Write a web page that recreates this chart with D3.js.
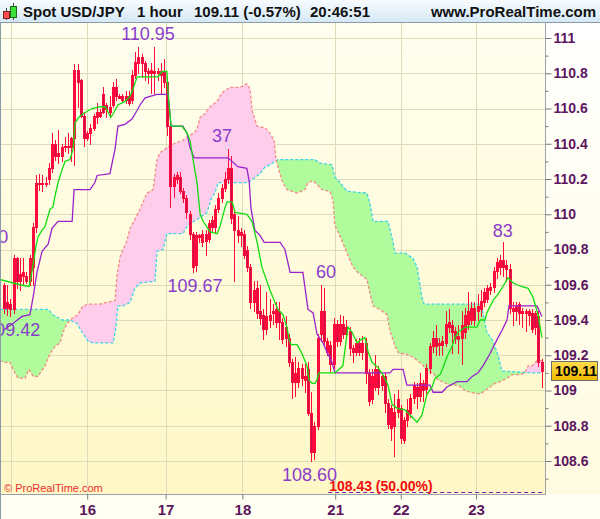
<!DOCTYPE html>
<html><head><meta charset="utf-8">
<script src="https://cdn.jsdelivr.net/npm/d3@7"></script>
<style>html,body{margin:0;padding:0;background:#fff;} svg{display:block;}</style>
</head><body>
<svg id="chart" width="600" height="519"></svg>
<script>
// ---------- DATA (hourly candles, bar index 0..168) ----------
const open = [109.60,109.50,109.49,109.46,109.75,109.62,109.65,109.65,109.62,109.70,
110.93-1.00,110.17,110.18,110.17,110.20,110.26,110.40,110.35,110.33,110.38,
110.38,110.38,110.43,110.82,110.76,110.56,110.43,110.46,110.49,110.55,
110.56,110.68,110.62,110.58,110.62,110.72,110.67,110.65,110.65,110.67,
110.65,110.79,110.86,110.89,110.86,110.81,110.80,110.81,110.80,110.81,
110.81,110.75,110.50,110.16,110.20,110.21,110.13,110.09,110.00,109.89,
109.71,109.88,109.84,109.89,109.86,109.97,109.93,110.03,110.09,110.15,
110.20,110.26,110.00,109.91,109.88,109.89,109.80,109.70,109.50,109.58,
109.45,109.43,109.35,109.40,109.45,109.39,109.45,109.39,109.30,109.30,
109.16,109.05,109.05,109.13,109.06,109.12,108.87,108.65,108.80,109.32,
109.45,109.22,109.26,109.15,109.38,109.28,109.38,109.32,109.34,109.24,
109.22,109.27,109.22,109.27,109.10,108.95,109.02,109.12,109.03,109.08,
108.93,108.79,108.80,108.88,108.90,108.72,108.83,108.87,108.96,109.02,
108.97,109.04,109.01,109.13,109.25,109.30,109.26,109.26,109.27,109.36,
109.37,109.34,109.29,109.30,109.33,109.38,109.40,109.47,109.45,109.46,
109.50,109.52,109.57,109.59,109.68,109.70,109.74,109.71,109.69,109.45,
109.48,109.49,109.44,109.44,109.45,109.44,109.44,109.42,109.16];
const high = [109.61,109.60,109.52,109.77,109.76,109.75,109.75,109.67,109.77,109.95,
110.22,110.23,110.22,110.21,110.29,110.46,110.42,110.48,110.40,110.44,
110.46,110.44,110.85,110.85,110.77,110.58,110.47,110.51,110.57,110.63,
110.60,110.72,110.63,110.67,110.75,110.77,110.68,110.68,110.70,110.70,
110.82,110.92,110.95,110.91,110.87,110.83,110.86,110.95,110.83,110.86,
110.88,110.78,110.52,110.23,110.24,110.24,110.15,110.11,110.02,109.90,
109.90,109.89,109.91,109.91,109.97,109.99,110.05,110.12,110.17,110.24,
110.37,110.33,110.02,109.99,109.92,109.91,109.82,109.72,109.62,109.62,
109.60,109.46,109.56,109.52,109.49,109.50,109.50,109.41,109.42,109.32,
109.18,109.19,109.16,109.15,109.15,109.16,108.99,108.82,109.32,109.60,
109.58,109.30,109.28,109.41,109.40,109.43,109.42,109.40,109.36,109.26,
109.29,109.30,109.31,109.30,109.12,109.12,109.20,109.14,109.10,109.10,
108.95,108.92,108.98,109.00,108.92,108.85,108.95,108.98,109.05,109.04,
109.10,109.06,109.15,109.27,109.34,109.37,109.30,109.31,109.45,109.46,
109.40,109.36,109.37,109.45,109.47,109.56,109.50,109.50,109.55,109.57,
109.58,109.60,109.61,109.70,109.75,109.77,109.84,109.74,109.72,109.50,
109.50,109.50,109.47,109.46,109.46,109.46,109.45,109.45,109.18];
const low = [109.44,109.43,109.42,109.44,109.58,109.57,109.60,109.61,109.60,109.60,
109.90,110.14,110.13,110.16,110.17,110.24,110.31,110.29,110.30,110.36,
110.35,110.30,110.28,110.61,110.55,110.39,110.42,110.40,110.48,110.52,
110.55,110.575,110.55,110.55,110.61,110.65,110.66,110.64,110.63,110.62,
110.63,110.775,110.80,110.78,110.76,110.745,110.69,110.69,110.76,110.68,
110.72,110.45,110.04,110.10,110.18,110.12,110.07,109.98,109.86,109.67,
109.68,109.84,109.82,109.77,109.84,109.90,109.90,110.01,110.07,110.13,
110.18,109.95,109.62,109.84,109.82,109.75,109.68,109.47,109.45,109.41,
109.38,109.29,109.32,109.36,109.38,109.36,109.29,109.27,109.25,109.14,
108.96,108.97,109.02,109.03,108.99,108.86,108.60,108.61,108.78,109.28,
109.25,109.20,109.11,109.13,109.25,109.26,109.30,109.30,109.20,109.16,
109.20,109.20,109.18,109.04,108.92,108.93,109.00,108.98,109.00,108.88,
108.79,108.72,108.63,108.85,108.70,108.70,108.80,108.85,108.93,108.90,
108.94,108.94,108.97,109.10,109.22,109.20,109.20,109.20,109.25,109.33,
109.21,109.27,109.21,109.15,109.30,109.35,109.38,109.37,109.40,109.42,
109.48,109.50,109.55,109.56,109.64,109.66,109.65,109.62,109.44,109.37,
109.40,109.38,109.36,109.34,109.37,109.33,109.32,109.14,109.02];
const close = [109.47,109.47,109.46,109.75,109.62,109.66,109.67,109.62,109.75,109.93,
110.18,110.18,110.17,110.18,110.26,110.40,110.33,110.33,110.38,110.39,
110.39,110.43,110.82,110.75,110.56,110.43,110.46,110.49,110.56,110.58,
110.58,110.58,110.60,110.61,110.72,110.67,110.66,110.67,110.67,110.63,
110.79,110.865,110.89,110.86,110.81,110.80,110.82,110.80,110.81,110.79,
110.75,110.50,110.16,110.21,110.22,110.13,110.09,110.01,109.89,109.70,
109.88,109.87,109.89,109.85,109.95,109.93,110.03,110.09,110.15,110.20,
110.26,109.98,109.91,109.88,109.90,109.77,109.70,109.50,109.57,109.44,
109.41,109.35,109.42,109.43,109.44,109.46,109.39,109.29,109.36,109.16,
109.05,109.10,109.13,109.07,109.08,108.87,108.65,108.80,109.30,109.45,
109.28,109.28,109.15,109.38,109.28,109.38,109.32,109.36,109.24,109.22,
109.27,109.22,109.27,109.10,108.94,109.08,109.12,109.02,109.08,108.93,
108.81,108.90,108.88,108.95,108.73,108.83,108.89,108.96,109.03,108.97,
109.04,109.00,109.13,109.25,109.30,109.25,109.27,109.28,109.38,109.39,
109.33,109.30,109.31,109.37,109.43,109.45,109.47,109.40,109.48,109.51,
109.56,109.58,109.59,109.68,109.73,109.74,109.70,109.69,109.47,109.47,
109.45,109.44,109.45,109.45,109.43,109.35,109.36,109.16,109.11];

// Ichimoku lines as [bar, price] vertices
const tenkan = [[-1.3,109.63],[5,109.60],[7.8,109.59],[8.8,109.68],[10,109.82],[10.6,109.87],[11.9,109.91],[12.8,109.93],[14.4,110.03],[15.3,110.04],[15.9,110.10],[16.9,110.18],[18.1,110.25],[19.1,110.30],[20.6,110.31],[21.6,110.37],[22.2,110.52],[23.4,110.55],[24.7,110.57],[27.5,110.60],[30,110.61],[31.6,110.61],[32.5,110.58],[33.4,110.55],[34.1,110.57],[35.6,110.62],[37.8,110.64],[39.4,110.67],[40.3,110.71],[41.6,110.78],[43.1,110.78],[48.1,110.78],[49.4,110.81],[50.9,110.81],[51.3,110.68],[52.2,110.50],[55.6,110.50],[57.2,110.46],[58.1,110.42],[59.1,110.31],[60.3,110.18],[61.3,110.00],[62.2,109.96],[64.4,109.90],[66.6,109.89],[67.5,109.93],[69.1,110.04],[69.7,110.07],[71.3,110.07],[72.2,110.01],[75.9,110.00],[77.5,109.96],[79.1,109.84],[80.6,109.70],[83.1,109.57],[85.6,109.46],[87.2,109.43],[88.4,109.36],[89.1,109.29],[89.7,109.26],[91.6,109.26],[93.1,109.21],[94.7,109.14],[95.3,109.06],[96.3,109.04],[97.2,109.04],[97.8,109.06],[98.4,109.10],[103.4,109.10],[105.9,109.14],[106.9,109.28],[107.5,109.36],[108.8,109.33],[110.3,109.27],[111.6,109.29],[112.8,109.30],[113.8,109.22],[115,109.16],[116.9,109.13],[118.4,109.09],[120,109.03],[121.3,108.92],[122.8,108.90],[125.3,108.89],[127.5,108.85],[129.1,108.82],[130.6,108.86],[132.2,108.98],[133.8,109.02],[134.7,109.07],[136.3,109.09],[137.2,109.13],[138.4,109.19],[140,109.25],[140.9,109.30],[141.9,109.33],[144.1,109.36],[147.8,109.36],[148.8,109.40],[150.3,109.40],[150.9,109.44],[152.8,109.51],[154.1,109.54],[155.6,109.58],[157.5,109.64],[159.1,109.61],[160.3,109.60],[161.9,109.59],[163.8,109.58],[165.3,109.53],[166.9,109.43],[168.1,109.30]];
const kijun = [[-0.3,109.34],[2.8,109.38],[5.6,109.42],[8.1,109.43],[9.1,109.53],[10.3,109.67],[11.9,109.79],[13.8,109.83],[15,109.92],[16.9,109.96],[21.3,109.96],[21.9,110.14],[26.9,110.14],[28.4,110.18],[29.1,110.22],[33.1,110.23],[34.7,110.37],[35.6,110.50],[37.8,110.51],[40,110.54],[41.6,110.59],[42.5,110.62],[44.1,110.66],[47.8,110.68],[51.3,110.68],[52.2,110.50],[55.9,110.50],[57.2,110.46],[58.1,110.38],[59.4,110.32],[70,110.32],[73.1,110.27],[75.9,110.26],[76.6,110.19],[77.2,110.03],[78.4,109.91],[80,109.88],[81.3,109.84],[86.3,109.84],[87.8,109.80],[89.4,109.67],[93.4,109.67],[95,109.46],[96.6,109.44],[97.8,109.32],[99.7,109.27],[100.9,109.22],[102.5,109.16],[103.4,109.10],[120.6,109.10],[121.6,109.12],[124.7,109.12],[125.9,109.03],[133.1,109.03],[134.1,108.99],[136.9,108.99],[138.4,109.02],[141.6,109.05],[144.7,109.05],[146.3,109.08],[148.1,109.10],[149.7,109.14],[151.9,109.21],[154.1,109.29],[155.6,109.34],[157.2,109.40],[157.8,109.48],[166.6,109.48],[168.1,109.42]];
const spanA = [[-1.3,109.46],[13.8,109.46],[15.3,109.43],[18.1,109.40],[20.6,109.40],[22.8,109.38],[24.4,109.33],[26.3,109.28],[27.8,109.27],[34.1,109.27],[35,109.36],[35.6,109.48],[37.2,109.48],[39.4,109.50],[40.9,109.58],[42.5,109.61],[47.2,109.62],[47.8,109.79],[49.7,109.80],[50.9,109.89],[55.9,109.89],[57.5,109.94],[60.3,109.97],[63.4,110.01],[65,110.10],[65.9,110.12],[66.9,110.18],[76.3,110.18],[77.8,110.20],[80,110.23],[81.6,110.27],[83.1,110.28],[85.6,110.31],[97.2,110.31],[98.8,110.29],[102.5,110.28],[103.4,110.21],[105,110.18],[107.2,110.13],[113.4,110.12],[114.4,110.06],[115.3,109.96],[120,109.96],[121.6,109.84],[122.2,109.78],[125.3,109.78],[127.8,109.75],[129.1,109.70],[130.6,109.53],[131.3,109.49],[148.8,109.49],[149.7,109.44],[150.9,109.33],[152.8,109.28],[154.4,109.20],[155.6,109.11],[165.3,109.10],[168.1,109.10]];
const spanB = [[-1.3,109.17],[0.3,109.16],[1.9,109.16],[3.4,109.10],[4.4,109.07],[6.6,109.07],[7.8,109.12],[9.1,109.08],[10.6,109.08],[12.8,109.14],[14.4,109.21],[15.9,109.25],[17.5,109.27],[18.4,109.33],[19.7,109.38],[21.3,109.41],[23.1,109.43],[24.7,109.48],[26.3,109.49],[30,109.49],[32.2,109.50],[34.7,109.51],[35.3,109.65],[36.3,109.76],[38.4,109.85],[39.4,109.92],[40.9,109.97],[42.5,110.03],[44.7,110.12],[46.6,110.14],[47.8,110.31],[48.8,110.35],[51.9,110.39],[54.4,110.41],[55.9,110.42],[59.1,110.46],[60.3,110.48],[61.3,110.55],[62.8,110.57],[64.4,110.61],[66.6,110.64],[68.1,110.69],[70.6,110.72],[73.8,110.72],[75.9,110.74],[76.9,110.71],[77.5,110.59],[79.1,110.50],[81.6,110.49],[83.1,110.46],[84.4,110.42],[85,110.31],[85.6,110.27],[86.9,110.19],[88.4,110.14],[91.6,110.12],[94.1,110.14],[95,110.18],[96.6,110.19],[97.8,110.17],[99.4,110.14],[101.9,110.13],[102.8,110.08],[103.4,109.94],[105.6,109.85],[107.2,109.78],[109.1,109.70],[110.6,109.67],[113.4,109.63],[114.4,109.55],[115.3,109.48],[117.5,109.46],[119.7,109.43],[120.6,109.34],[122.2,109.25],[123.4,109.21],[125.3,109.21],[127.8,109.19],[130.6,109.15],[132.2,109.11],[134.1,109.10],[135.6,109.06],[139.4,109.03],[141.9,109.03],[144.1,109.00],[145.6,108.99],[148.8,108.98],[151.9,109.02],[153.4,109.04],[155,109.05],[157.2,109.07],[158.8,109.09],[161.3,109.09],[162.8,109.10],[163.8,109.14],[165,109.14],[166.6,109.17],[168.1,109.17]];

const dayLabels = ["16","17","18","21","22","23"];
const dayBars = [26, 50.5, 74.5, 103.5, 124, 147.5];
const extraGridBars = [2.1];
const priceTicks = [108.6,108.8,109,109.2,109.4,109.6,109.8,110,110.2,110.4,110.6,110.8,111];
const minorTicks = [108.5,108.7,108.9,109.1,109.3,109.5,109.7,109.9,110.1,110.3,110.5,110.7,110.9];
const annotations = [
  {text:"110.95", bar:45, value:110.95, pos:"above"},
  {text:"37", bar:68.1, value:110.37, pos:"above"},
  {text:"60", bar:100.6, value:109.60, pos:"above"},
  {text:"83", bar:155.9, value:109.83, pos:"above"},
  {text:"109.67", bar:59.7, value:109.67, pos:"below"},
  {text:"108.60", bar:95.5, value:108.60, pos:"below"},
  {text:"109.42", bar:2.7, value:109.42, pos:"below"},
  {text:"0", bar:-0.2, value:109.80, pos:"above"}
];
const lastPrice = 109.11;
const retrace = {value:108.43, label:"108.43 (50.00%)", startBar:101.3};
const titleParts = [
  {text:"Spot USD/JPY", x:23},
  {text:"1 hour", x:137},
  {text:"109.11 (-0.57%)", x:194},
  {text:"20:46:51", x:310}
];
const siteText = "www.ProRealTime.com";

// ---------- LAYOUT ----------
const W = 600, H = 519;
const PL = 0, PR = 545, PT = 23, PB = 494;
const x = d3.scaleLinear().domain([0, 168]).range([4, 541.6]);
const y = d3.scaleLinear().domain([108.6, 111]).range([461, 38]);

const svg = d3.select("#chart");
const defs = svg.append("defs");
function vgrad(id, stops){
  const g = defs.append("linearGradient").attr("id", id).attr("x1",0).attr("y1",0).attr("x2",0).attr("y2",1);
  stops.forEach(s => g.append("stop").attr("offset", s[0]).attr("stop-color", s[1]));
}
vgrad("hdr", [[0,"#f8fcff"],[1,"#d5e8f6"]]);
vgrad("plotbg", [[0,"#fffff0"],[1,"#fff7c6"]]);
vgrad("axbg", [[0,"#ffffff"],[1,"#fffbe0"]]);
vgrad("box", [[0,"#ffdc50"],[1,"#f2b800"]]);
defs.append("clipPath").attr("id","plotClip").append("rect")
  .attr("x",PL).attr("y",PT).attr("width",PR-PL).attr("height",PB-PT);

// backgrounds
svg.append("rect").attr("x",0).attr("y",0).attr("width",W).attr("height",H).attr("fill","#fffff4");
svg.append("rect").attr("x",PL).attr("y",PT).attr("width",PR-PL).attr("height",PB-PT).attr("fill","url(#plotbg)");
svg.append("rect").attr("x",PR).attr("y",PT).attr("width",W-PR).attr("height",PB-PT).attr("fill","url(#axbg)");
svg.append("rect").attr("x",0).attr("y",PB).attr("width",W).attr("height",H-PB).attr("fill","#fffef2");

const plot = svg.append("g").attr("clip-path","url(#plotClip)");

// grid
const gridCol = "#dcdcba";
plot.selectAll(".hg").data(priceTicks).enter().append("line")
  .attr("x1",PL).attr("x2",PR).attr("y1",d=>Math.round(y(d))+0.5).attr("y2",d=>Math.round(y(d))+0.5)
  .attr("stroke",gridCol).attr("stroke-width",1);
plot.selectAll(".vg").data(dayBars.concat(extraGridBars)).enter().append("line")
  .attr("x1",d=>Math.round(x(d))+0.5).attr("x2",d=>Math.round(x(d))+0.5).attr("y1",PT).attr("y2",PB)
  .attr("stroke",gridCol).attr("stroke-width",1);

// cloud fills via clipPaths
const areaBelow = d3.area().x(d=>x(d[0])).y0(PB+5).y1(d=>y(d[1]));
const areaAbove = d3.area().x(d=>x(d[0])).y0(PT-5).y1(d=>y(d[1]));
defs.append("clipPath").attr("id","belowA").append("path").attr("d", areaBelow(spanA));
defs.append("clipPath").attr("id","belowB").append("path").attr("d", areaBelow(spanB));
plot.append("g").attr("clip-path","url(#belowA)").append("path")
  .attr("d", areaAbove(spanB)).attr("fill","#b0fc9c");
plot.append("g").attr("clip-path","url(#belowB)").append("path")
  .attr("d", areaAbove(spanA)).attr("fill","#fdcdeb");
const ln = d3.line().x(d=>x(d[0])).y(d=>y(d[1]));
plot.append("path").attr("d", ln(spanA)).attr("fill","none").attr("stroke","#3dd3ea")
  .attr("stroke-width",1.3).attr("stroke-dasharray","3,2");
plot.append("path").attr("d", ln(spanB)).attr("fill","none").attr("stroke","#f48a84")
  .attr("stroke-width",1.3).attr("stroke-dasharray","3,2");

// candles
const n = Math.min(open.length, high.length, low.length, close.length);
const candles = d3.range(n).map(i => ({i, o:open[i], h:high[i], l:low[i], c:close[i]}));
const cg = plot.append("g");
candles.forEach(d => {
  const cx = Math.round(x(d.i));
  cg.append("line").attr("x1",cx+0.5).attr("x2",cx+0.5)
    .attr("y1",Math.round(y(d.h))).attr("y2",Math.round(y(d.l))+1)
    .attr("stroke","#ff0a3c").attr("stroke-width",1);
  const top = Math.round(y(Math.max(d.o,d.c))), bot = Math.round(y(Math.min(d.o,d.c)));
  cg.append("rect").attr("x",cx-0.5).attr("y",top+0.5).attr("width",2).attr("height",Math.max(1,bot-top))
    .attr("fill", d.c < d.o ? "#c8104a" : "none").attr("stroke","#ff0a3c").attr("stroke-width",1);
});

// tenkan / kijun
plot.append("path").attr("d", ln(kijun)).attr("fill","none").attr("stroke","#9a22cc").attr("stroke-width",1.3);
plot.append("path").attr("d", ln(tenkan)).attr("fill","none").attr("stroke","#10dd10").attr("stroke-width",1.3);

// annotations
plot.selectAll(".ann").data(annotations).enter().append("text")
  .attr("x", d=>x(d.bar)).attr("y", d=> d.pos==="above" ? y(d.value)-7 : y(d.value)+20)
  .attr("text-anchor","middle").attr("font-family","Liberation Sans, Arial, sans-serif")
  .attr("font-size",18).attr("fill","#8a3ccb").text(d=>d.text);

// retracement line & label
const ry = Math.round(y(retrace.value)) + 1.5;
plot.append("line").attr("x1",x(retrace.startBar)).attr("x2",PR).attr("y1",ry).attr("y2",ry)
  .attr("stroke","#7a1ec0").attr("stroke-width",1).attr("stroke-dasharray","4,3");
plot.append("text").attr("x",x(retrace.startBar)+1).attr("y",ry-2)
  .attr("font-family","Liberation Sans, Arial, sans-serif").attr("font-weight","bold")
  .attr("font-size",14).attr("fill","#f01010").text(retrace.label);

// copyright
svg.append("text").attr("x",4).attr("y",492).attr("font-family","Liberation Sans, Arial, sans-serif")
  .attr("font-size",11).attr("fill","#e83030").text("\u00a9 ProRealTime.com");

// axes lines
svg.append("line").attr("x1",PR+0.5).attr("x2",PR+0.5).attr("y1",PT).attr("y2",PB+1).attr("stroke","#9aa3aa");
svg.append("line").attr("x1",0).attr("x2",PR+1).attr("y1",PB+0.5).attr("y2",PB+0.5).attr("stroke","#9aa3aa");
svg.append("line").attr("x1",0.5).attr("x2",0.5).attr("y1",PT).attr("y2",H).attr("stroke","#8c9aa6");

const axisCol = "#5c165f";
// right axis
const ra = svg.append("g").attr("transform",`translate(${PR+0.5},0)`)
  .call(d3.axisRight(y).tickValues(priceTicks).tickSize(6).tickPadding(2)
        .tickFormat(d=>String(+d.toFixed(1))));
ra.select(".domain").remove();
ra.selectAll(".tick line").attr("stroke","#7a7a80");
ra.selectAll(".tick text").attr("font-family","Liberation Sans, Arial, sans-serif")
  .attr("font-weight","bold").attr("font-size",14).attr("fill",axisCol);
const rm = svg.append("g").attr("transform",`translate(${PR+0.5},0)`)
  .call(d3.axisRight(y).tickValues(minorTicks).tickSize(3).tickFormat(""));
rm.select(".domain").remove();
rm.selectAll(".tick line").attr("stroke","#7a7a80");

// bottom axis
const ba = svg.append("g").attr("transform",`translate(0,${PB+0.5})`)
  .call(d3.axisBottom(x).tickValues(dayBars).tickSize(5).tickPadding(5)
        .tickFormat((d,i)=>dayLabels[i]));
ba.select(".domain").remove();
ba.selectAll(".tick line").attr("stroke","#7a7a80");
ba.selectAll(".tick text").attr("font-family","Liberation Sans, Arial, sans-serif")
  .attr("font-weight","bold").attr("font-size",15).attr("fill",axisCol);

// last price box
const ly = y(lastPrice);
svg.append("rect").attr("x",551.5).attr("y",Math.round(ly)-9.5).attr("width",46).attr("height",19)
  .attr("fill","url(#box)").attr("stroke","#6b6b6b").attr("stroke-width",1);
svg.append("text").attr("x",555).attr("y",ly).attr("dy","0.36em")
  .attr("font-family","Liberation Sans, Arial, sans-serif").attr("font-weight","bold")
  .attr("font-size",14).attr("fill","#000").text(lastPrice.toFixed(2));

// header
svg.append("rect").attr("x",0).attr("y",0).attr("width",W).attr("height",PT-1).attr("fill","url(#hdr)");
svg.append("line").attr("x1",0).attr("x2",W).attr("y1",PT-0.5).attr("y2",PT-0.5).attr("stroke","#8d9aa6");
// icon
svg.append("line").attr("x1",6.5).attr("x2",6.5).attr("y1",8).attr("y2",20).attr("stroke","#444");
svg.append("rect").attr("x",3.5).attr("y",11.5).attr("width",6).attr("height",7).attr("fill","#ff4d4d").attr("stroke","#7a2020");
svg.append("line").attr("x1",13.5).attr("x2",13.5).attr("y1",3).attr("y2",20).attr("stroke","#444");
svg.append("rect").attr("x",10.5).attr("y",6.5).attr("width",6).attr("height",11).attr("fill","#38e038").attr("stroke","#1c6a1c");
svg.selectAll(".tt").data(titleParts).enter().append("text")
  .attr("x",d=>d.x).attr("y",17).attr("font-family","Liberation Sans, Arial, sans-serif")
  .attr("font-weight","bold").attr("font-size",15).attr("fill","#111").text(d=>d.text);
svg.append("text").attr("x",596).attr("y",17).attr("text-anchor","end")
  .attr("font-family","Liberation Sans, Arial, sans-serif")
  .attr("font-weight","bold").attr("font-size",15).attr("fill","#111").text(siteText);
</script>
</body></html>
